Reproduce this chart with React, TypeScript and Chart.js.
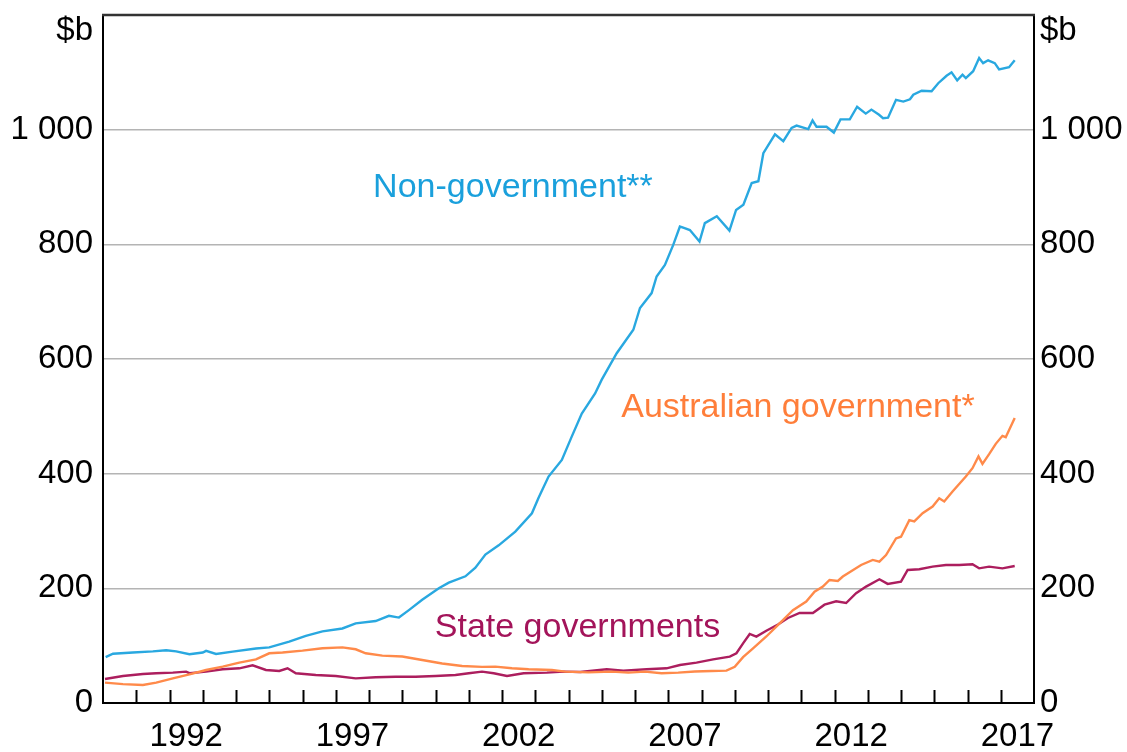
import React, { useEffect, useRef } from 'react';
import { Chart, registerables } from 'chart.js';

Chart.register(...registerables);

// ---------- Data (decimal years, $b) ----------
const nonGovYears = [
  1990.08, 1990.3, 1990.9, 1991.5, 1991.9, 1992.2, 1992.6, 1993.0, 1993.1, 1993.4, 1993.9,
  1994.6, 1995.0, 1995.6, 1996.1, 1996.6, 1997.2, 1997.6, 1998.2, 1998.6, 1998.9, 1999.2,
  1999.6, 2000.1, 2000.4, 2000.9, 2001.2, 2001.5, 2001.9, 2002.4, 2002.9, 2003.1, 2003.4,
  2003.8, 2004.1, 2004.4, 2004.8, 2005.0, 2005.45, 2005.95, 2006.15, 2006.5, 2006.65, 2006.9,
  2007.15, 2007.35, 2007.45, 2007.65, 2007.94, 2008.1, 2008.46, 2008.84, 2009.04, 2009.26,
  2009.51, 2009.71, 2009.86, 2010.0, 2010.21, 2010.46, 2010.71, 2010.86, 2011.21, 2011.34,
  2011.46, 2011.76, 2011.98, 2012.18, 2012.46, 2012.68, 2012.94, 2013.11, 2013.34, 2013.46,
  2013.61, 2013.85, 2014.07, 2014.27, 2014.37, 2014.62, 2014.92, 2015.12, 2015.37, 2015.52,
  2015.69, 2015.85, 2015.95, 2016.17, 2016.35, 2016.47, 2016.62, 2016.82, 2016.95, 2017.25,
  2017.42,
];
const nonGovValues = [
  80, 86, 88, 90, 92, 90, 85, 88, 91, 85.6, 89.6,
  95, 97, 107, 117, 125, 130, 139, 143, 152, 149, 162,
  180, 200, 210, 221, 236, 259, 275, 299, 331, 358, 395,
  424, 465, 505, 540, 564, 610, 651, 689, 715, 744, 764,
  799, 831, 829, 825, 805, 837, 849, 824, 860, 869,
  907, 910, 959, 972, 992, 980, 1003, 1007, 1001, 1016,
  1005, 1005, 995, 1018, 1018, 1040, 1028, 1035, 1026, 1020,
  1021, 1052, 1049, 1053, 1061, 1068, 1067, 1081, 1094, 1100,
  1086, 1096, 1090, 1102, 1125, 1116, 1121, 1116, 1105, 1109,
  1121,
];

const ausGovYears = [
  1990.06, 1990.6, 1991.2, 1991.6, 1992.1, 1992.6, 1993.1, 1993.6, 1994.1, 1994.6, 1995.0,
  1995.4, 1996.0, 1996.6, 1997.2, 1997.6, 1997.9, 1998.4, 1999.0, 1999.6, 2000.2, 2000.8,
  2001.4, 2001.8, 2002.3, 2002.8, 2003.5, 2003.9, 2004.6, 2005.3, 2005.8, 2006.3, 2006.8,
  2007.3, 2007.8, 2008.3, 2008.75, 2009.0, 2009.25, 2009.55, 2009.95, 2010.35, 2010.75, 2011.15,
  2011.4, 2011.65, 2011.85, 2012.1, 2012.25, 2012.8, 2013.15, 2013.35, 2013.55, 2013.85, 2014.0,
  2014.25, 2014.4, 2014.65, 2014.95, 2015.15, 2015.3, 2015.55, 2015.95, 2016.15, 2016.33, 2016.45,
  2016.65, 2016.85, 2017.05, 2017.15, 2017.42,
];
const ausGovValues = [
  35.5, 33, 31.4, 35.5, 43, 50, 57.6, 63.4, 70.4, 76, 86.7,
  88, 91.3, 95.4, 97, 93.7, 86.7, 82.6, 81, 75, 69, 64.6,
  63, 63.4, 60.5, 58.8, 57.6, 54.7, 53.5, 54.7, 53, 54.7, 51.8,
  53, 55, 55.8, 56.4, 63, 80, 95.4, 116, 139, 162, 177,
  194, 203, 214.6, 213, 220.6, 240.8, 249.5, 246.6, 258, 287, 290,
  319, 316.7, 331, 342.6, 357, 351.4, 368.8, 395, 409.5, 430, 417,
  434, 452, 466, 463.7, 497,
];

const stateGovYears = [
  1990.06, 1990.6, 1991.2, 1991.6, 1992.1, 1992.5, 1992.6, 1993.1, 1993.6, 1994.1, 1994.5,
  1994.9, 1995.3, 1995.55, 1995.8, 1996.4, 1997.0, 1997.6, 1998.2, 1998.8, 1999.4, 2000.0,
  2000.6, 2001.0, 2001.4, 2001.75, 2002.15, 2002.65, 2003.35, 2003.85, 2004.35, 2005.15, 2005.65,
  2006.35, 2006.95, 2007.35, 2007.85, 2008.35, 2008.85, 2009.05, 2009.25, 2009.45, 2009.65, 2009.95,
  2010.3, 2010.6, 2010.95, 2011.35, 2011.7, 2012.05, 2012.35, 2012.65, 2012.95, 2013.35, 2013.6,
  2014.0, 2014.2, 2014.55, 2014.95, 2015.35, 2015.75, 2016.15, 2016.35, 2016.65, 2017.05, 2017.42,
];
const stateGovValues = [
  41.9, 47, 50.6, 51.8, 53, 54.7, 52, 54.7, 58.8, 60.5, 65.7,
  57.6, 55.8, 60.5, 51.8, 48.9, 47.1, 43, 44.8, 45.9, 45.9, 47.1,
  48.9, 51.8, 54.7, 51.8, 47.1, 51.8, 53, 54.7, 54, 58.8, 56.4,
  58.8, 60.5, 66.3, 70.4, 76, 81, 86.7, 104, 120.4, 115.8, 126,
  137, 148.3, 157, 157, 171.5, 177.3, 174.4, 191.4, 203, 215.8, 207.7,
  211.8, 232, 233.2, 237.9, 240.8, 240.8, 241.9, 234.9, 237.9, 234.9, 239,
];

const seriesNames = ['Non-government**', 'Australian government*', 'State governments'];
const seriesColors = ['#29A8E0', '#FF8A4A', '#AC1E5E'];
const labelColors = ['#1AA0DC', '#FF7E3A', '#A3145A'];
// label anchor positions in data units [year, $b]
const labelYears = [2002.33, 2010.9, 2004.27];
const labelValues = [899, 516, 131];

const xLabelYears = [1992, 1997, 2002, 2007, 2012, 2017];
const yTickValues = [0, 200, 400, 600, 800, 1000, 1200];
const unitLabel = '$b';
const xMin = 1990;
const xMax = 2018;

const FONT = '"Liberation Sans", Arial, sans-serif';

function pairs(xs: number[], ys: number[]) {
  return xs.map((x, i) => ({ x, y: ys[i] }));
}

function fmt(v: number) {
  if (v >= 1000) {
    const s = String(v);
    return s.slice(0, s.length - 3) + ' ' + s.slice(s.length - 3);
  }
  return String(v);
}

const overlayPlugin = {
  id: 'overlay',
  afterDraw(chart: any) {
    const { ctx, chartArea, scales } = chart;
    const xs = scales.x;
    const ys = scales.y;
    ctx.save();
    // top border
    ctx.strokeStyle = '#333';
    ctx.lineWidth = 2.5;
    ctx.beginPath();
    ctx.moveTo(chartArea.left - 1, chartArea.top);
    ctx.lineTo(chartArea.right + 1, chartArea.top);
    ctx.stroke();
    // inward year tick marks
    ctx.strokeStyle = '#000';
    ctx.lineWidth = 2;
    for (let yr = xMin + 1; yr < xMax; yr++) {
      const px = Math.round(xs.getPixelForValue(yr)) + 0.5;
      ctx.beginPath();
      ctx.moveTo(px, chartArea.bottom);
      ctx.lineTo(px, chartArea.bottom - 13);
      ctx.stroke();
    }
    // unit labels
    ctx.font = `33px ${FONT}`;
    ctx.fillStyle = '#000';
    ctx.textBaseline = 'middle';
    ctx.textAlign = 'right';
    ctx.fillText(unitLabel, chartArea.left - 10, chartArea.top + 16);
    ctx.textAlign = 'left';
    ctx.fillText(unitLabel, chartArea.right + 6, chartArea.top + 16);
    // series annotations
    ctx.font = `34px ${FONT}`;
    ctx.textAlign = 'center';
    seriesNames.forEach((name, i) => {
      ctx.fillStyle = labelColors[i];
      ctx.fillText(name, xs.getPixelForValue(labelYears[i]), ys.getPixelForValue(labelValues[i]));
    });
    ctx.restore();
  },
};

export default function App() {
  const canvasRef = useRef<HTMLCanvasElement | null>(null);

  useEffect(() => {
    document.body.style.margin = '0';
    const canvas = canvasRef.current;
    if (!canvas) return;
    const yTicksCfg = {
      color: '#000',
      font: { family: FONT, size: 33 },
      callback: (v: any) => (v === 1200 ? '' : fmt(Number(v))),
    };
    const chart = new Chart(canvas, {
      type: 'line',
      data: {
        datasets: [
          { label: seriesNames[0], data: pairs(nonGovYears, nonGovValues), borderColor: seriesColors[0], borderWidth: 2.4, pointRadius: 0, tension: 0 },
          { label: seriesNames[1], data: pairs(ausGovYears, ausGovValues), borderColor: seriesColors[1], borderWidth: 2.4, pointRadius: 0, tension: 0 },
          { label: seriesNames[2], data: pairs(stateGovYears, stateGovValues), borderColor: seriesColors[2], borderWidth: 2.4, pointRadius: 0, tension: 0 },
        ],
      },
      options: {
        animation: false,
        responsive: true,
        maintainAspectRatio: false,
        layout: { padding: { top: 15, left: 0, right: 0, bottom: 0 } },
        plugins: { legend: { display: false }, tooltip: { enabled: false } },
        scales: {
          x: {
            type: 'linear',
            position: 'bottom',
            min: xMin,
            max: xMax,
            afterBuildTicks: (scale: any) => {
              scale.ticks = xLabelYears.map((y) => ({ value: y + 0.5 }));
            },
            afterFit: (scale: any) => {
              scale.height = 49;
              scale.paddingLeft = 0;
              scale.paddingRight = 0;
            },
            ticks: {
              autoSkip: false,
              maxRotation: 0,
              color: '#000',
              padding: 14,
              font: { family: FONT, size: 33 },
              callback: (v: any) => String(Math.floor(Number(v))),
            },
            grid: { display: false, drawTicks: false },
            border: { display: true, color: '#000', width: 2 },
          },
          y: {
            position: 'left',
            min: 0,
            max: 1200,
            afterBuildTicks: (scale: any) => {
              scale.ticks = yTickValues.map((v) => ({ value: v }));
            },
            afterFit: (scale: any) => {
              scale.width = 103;
              scale.paddingTop = 0;
              scale.paddingBottom = 0;
            },
            ticks: { ...yTicksCfg, padding: 10 },
            grid: {
              drawTicks: false,
              lineWidth: 1.5,
              color: (c: any) => (c.tick && (c.tick.value === 0 || c.tick.value === 1200) ? 'rgba(0,0,0,0)' : '#B4B4B4'),
            },
            border: { display: true, color: '#000', width: 2 },
          },
          y2: {
            position: 'right',
            min: 0,
            max: 1200,
            afterBuildTicks: (scale: any) => {
              scale.ticks = yTickValues.map((v) => ({ value: v }));
            },
            afterFit: (scale: any) => {
              scale.width = 93;
              scale.paddingTop = 0;
              scale.paddingBottom = 0;
            },
            ticks: { ...yTicksCfg, padding: 6 },
            grid: { drawOnChartArea: false, drawTicks: false },
            border: { display: true, color: '#000', width: 2 },
          },
        },
      } as any,
      plugins: [overlayPlugin],
    });
    return () => chart.destroy();
  }, []);

  return (
    <div style={{ width: 1127, height: 752, position: 'relative', background: '#fff' }}>
      <canvas ref={canvasRef} />
    </div>
  );
}
